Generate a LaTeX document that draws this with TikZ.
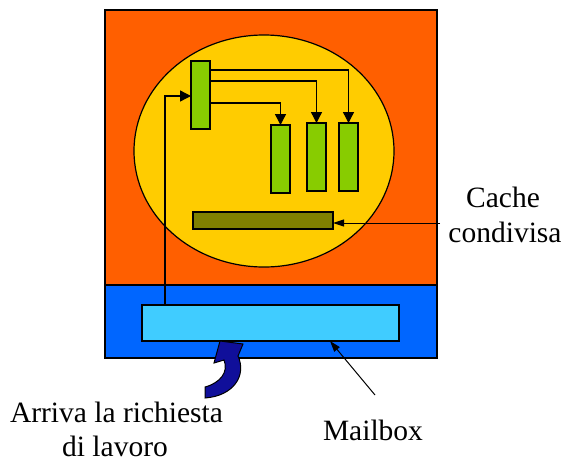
\documentclass[tikz,border=0pt]{standalone}
\usepackage{fontspec}
\setmainfont{Liberation Serif}
\usetikzlibrary{arrows.meta}
\definecolor{corange}{HTML}{FF5F00}
\definecolor{cyellow}{HTML}{FFCC00}
\definecolor{cgreen}{HTML}{88CC00}
\definecolor{colive}{HTML}{808000}
\definecolor{cblue}{HTML}{0066FF}
\definecolor{clight}{HTML}{40CCFF}
\definecolor{cnavy}{HTML}{100F9A}
\tikzset{
  box/.style={draw=black, line width=1.2pt},
  link/.style={draw=black, line width=1.4pt, -{Triangle[length=11pt,width=11pt]}},
  thinlink/.style={draw=black, line width=1pt, -{Triangle[length=11pt,width=7pt]}},
  lbl/.style={font=\fontsize{29.5}{34}\selectfont, anchor=base, inner sep=0pt}
}
\begin{document}
\begin{tikzpicture}[x=1pt,y=-1pt]
\useasboundingbox (0,0) rectangle (565,464);
% outer boxes
\path[box, fill=corange] (105,10) rectangle (437,285);
\path[box, fill=cblue] (105,285) rectangle (437,358);
\path[box, fill=clight] (142,305) rectangle (399,341);
\coordinate (mailtop) at (165,305);
% chip
\path[box, fill=cyellow] (264,151) ellipse [x radius=130, y radius=116];
% green units
\path[box, fill=cgreen] (191,61) rectangle (210,129);
\path[box, fill=cgreen] (271,125) rectangle (290,193);
\path[box, fill=cgreen] (307,123) rectangle (326,191);
\path[box, fill=cgreen] (339,123) rectangle (358,191);
\path[box, fill=colive] (193,212) rectangle (333,229);
\coordinate (ctrlW) at (191,96);
\coordinate (c1) at (280.5,125);
\coordinate (c2) at (316.5,123);
\coordinate (c3) at (348.5,123);
\coordinate (cacheE) at (333,223);
% connectors
\draw[link] (mailtop) -- (165,96) -- (ctrlW);
\draw[link] (210,70) -- (348.5,70) -- (c3);
\draw[link] (210,81) -- (316.5,81) -- (c2);
\draw[link] (210,103) -- (280.5,103) -- (c1);
\coordinate (cacheLblW) at (440,223);
\draw[thinlink] (cacheLblW) -- (cacheE);
\coordinate (mailLbl) at (375,395);
\coordinate (mailPt) at (330,341);
\draw[thinlink] (mailLbl) -- (mailPt);
% curved block arrow
\path[draw=black, line width=1pt, fill=cnavy]
  (205,387) .. controls (220,383) and (229,372) .. (224,360)
  -- (214,363) -- (220,341) -- (243,344) -- (238,356)
  .. controls (247,376) and (233,396) .. (205,398) -- cycle;
% labels
\node[lbl] (cache1) at (503,207) {Cache};
\node[lbl] (cache2) at (505,242) {condivisa};
\node[lbl] (arr1) at (116.5,422) {Arriva la richiesta};
\node[lbl] (arr2) at (115,456) {di lavoro};
\node[lbl] (mlb) at (373,440) {Mailbox};
\end{tikzpicture}
\end{document}
